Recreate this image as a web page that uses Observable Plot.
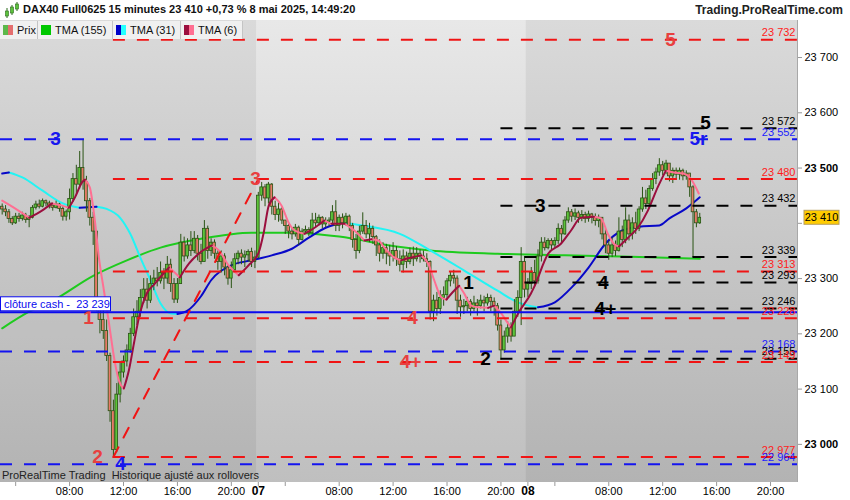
<!DOCTYPE html>
<html>
<head>
<meta charset="utf-8">
<script src="https://cdn.jsdelivr.net/npm/d3@7"></script>
<script src="https://cdn.jsdelivr.net/npm/@observablehq/plot@0.6"></script>
<style>
  body { margin: 0; background: #fff; font-family: "Liberation Sans", Arial, sans-serif; }
  #wrap { position: relative; width: 850px; height: 500px; overflow: hidden; background: #fff; }
  #hdr { position: absolute; left: 0; top: 0; width: 850px; height: 20px; background: #fff; }
  #title { position: absolute; left: 23px; top: 3px; font-size: 11px; font-weight: bold; color: #111; white-space: nowrap; }
  #brand { position: absolute; right: 7px; top: 3px; font-size: 12px; font-weight: bold; color: #222; }
  #bg { position: absolute; left: 0; top: 20px; width: 797px; height: 462px; background: linear-gradient(#e8e8e8, #bfbfbf); }
  #chart { position: absolute; left: 0; top: 20px; }
  #legend { position: absolute; left: 0; top: 21px; height: 18px; display: flex; }
  .lg { box-sizing: border-box; height: 18px; background: #f0f0f0; border-right: 1px solid #c4c4c4; display: flex; align-items: center; font-size: 11px; padding-left: 3px; color: #111; }
  .sw { width: 5px; height: 10px; display: inline-block; }
  .gap { width: 4px; display: inline-block; }
  #foot { position: absolute; left: 2px; top: 469px; font-size: 11px; color: #222; white-space: nowrap; }
</style>
</head>
<body>
<div id="wrap">
  <div id="hdr">
    <svg width="16" height="17" style="position:absolute;left:4px;top:2px">
      <line x1="3" y1="6" x2="3" y2="16" stroke="#2b6a1a"/><rect x="1.5" y="9" width="3" height="5" fill="#5cc33c" stroke="#2b6a1a" stroke-width="0.6"/>
      <line x1="8" y1="3" x2="8" y2="13" stroke="#2b6a1a"/><rect x="6.5" y="5" width="3" height="6" fill="#5cc33c" stroke="#2b6a1a" stroke-width="0.6"/>
      <line x1="13" y1="0" x2="13" y2="9" stroke="#2b6a1a"/><rect x="11.5" y="2" width="3" height="5" fill="#5cc33c" stroke="#2b6a1a" stroke-width="0.6"/>
    </svg>
    <div id="title">DAX40 Full0625 15 minutes 23 410 +0,73 % 8 mai 2025, 14:49:20</div>
    <div id="brand">Trading.ProRealTime.com</div>
  </div>
  <div id="bg"></div>
  <div id="chart"></div>
  <div id="legend">
    <div class="lg" style="width:38px"><span class="sw" style="background:#5cb84a"></span><span class="sw" style="background:#e46e6e"></span><span class="gap"></span>Prix</div>
    <div class="lg" style="width:75px"><span class="sw" style="width:10px;background:#00c800"></span><span class="gap"></span>TMA (155)</div>
    <div class="lg" style="width:68px"><span class="sw" style="background:#0000c8"></span><span class="sw" style="background:#22ffff"></span><span class="gap"></span>TMA (31)</div>
    <div class="lg" style="width:62px"><span class="sw" style="background:#9b0f3e"></span><span class="sw" style="background:#ff6f92"></span><span class="gap"></span>TMA (6)</div>
  </div>
  <div id="foot">ProRealTime Trading&nbsp; Historique ajusté aux rollovers</div>
</div>
<script>
// 15 minute bars, bar 0 = 6 mai 03:00, bar 76 = 7 mai 02:00, bar 156 = 8 mai 02:00
const firstOpen = 23430;
const closes = [
  23425,23420,23408,23400,23412,23408,23414,23406,23410,23428,23434,23430,23440,23436,23432,23428,23434,23426,23412,23420,
  23444,23480,23470,23500,23475,23440,23410,23385,23250,23225,23205,23160,23060,22990,23090,23130,23150,23170,23200,23230,
  23240,23265,23280,23260,23290,23300,23295,23310,23300,23325,23290,23262,23290,23365,23340,23360,23350,23372,23345,23330,
  23390,23350,23365,23345,23330,23340,23320,23300,23315,23335,23345,23338,23342,23348,23330,23338,
  23450,23465,23445,23470,23430,23415,23425,23405,23395,23385,23380,23392,23370,23385,23388,23382,23405,23400,23410,23398,
  23402,23405,23420,23395,23410,23400,23412,23395,23370,23350,23385,23395,23380,23390,23375,23360,23345,23355,23345,23340,
  23350,23335,23325,23340,23330,23345,23335,23345,23340,23335,23330,23240,23260,23245,23265,23270,23295,23305,23300,23260,
  23248,23250,23258,23245,23255,23250,23260,23255,23265,23258,23250,23215,23170,23195,23210,23195,23240,23265,23330,23280,
  23290,23310,23295,23340,23365,23355,23368,23360,23368,23390,23380,23405,23420,23412,23418,23410,23415,23408,23416,23410,
  23404,23410,23380,23360,23345,23360,23350,23385,23370,23405,23380,23400,23390,23425,23445,23435,23462,23480,23492,23505,
  23495,23508,23485,23495,23488,23495,23485,23490,23465,23420,23400,23410
];
const highs = [
  23435,23432,23425,23412,23418,23418,23420,23418,23414,23432,23440,23442,23444,23442,23440,23436,23440,23436,23430,23424,
  23462,23490,23505,23530,23552,23485,23445,23420,23385,23260,23245,23225,23165,23080,23110,23150,23160,23180,23210,23245,
  23260,23280,23300,23300,23305,23315,23320,23330,23318,23340,23335,23300,23300,23380,23375,23372,23385,23385,23378,23362,
  23405,23395,23372,23370,23350,23350,23345,23325,23330,23345,23350,23352,23350,23352,23355,23350,
  23456,23474,23470,23474,23472,23440,23437,23428,23405,23400,23392,23398,23395,23390,23395,23392,23418,23418,23415,23412,
  23410,23410,23432,23441,23415,23417,23418,23415,23400,23380,23395,23419,23405,23400,23395,23378,23370,23365,23362,23360,
  23365,23358,23350,23352,23348,23355,23357,23356,23352,23350,23345,23332,23270,23275,23278,23285,23300,23312,23315,23305,
  23270,23262,23266,23262,23268,23262,23270,23268,23272,23270,23265,23255,23225,23205,23222,23220,23262,23278,23356,23340,
  23300,23320,23333,23352,23374,23374,23372,23372,23374,23399,23396,23412,23428,23425,23426,23422,23423,23420,23422,23418,
  23417,23415,23410,23390,23368,23374,23368,23410,23395,23428,23415,23410,23420,23430,23465,23460,23468,23490,23500,23517,
  23512,23514,23505,23500,23500,23500,23498,23495,23490,23468,23425,23418
];
const lows = [
  23415,23412,23400,23396,23398,23402,23404,23400,23392,23408,23424,23426,23428,23430,23426,23422,23426,23420,23404,23404,
  23406,23438,23450,23462,23460,23420,23395,23360,23240,23200,23190,23150,23040,22975,22985,23075,23120,23140,23165,23195,
  23215,23230,23255,23245,23255,23278,23285,23290,23280,23290,23275,23255,23255,23290,23330,23335,23340,23345,23332,23325,
  23330,23335,23340,23335,23315,23310,23305,23288,23282,23310,23325,23325,23320,23330,23320,23318,
  23336,23440,23430,23435,23415,23405,23402,23398,23380,23372,23370,23375,23360,23368,23380,23376,23380,23392,23395,23390,
  23392,23394,23396,23385,23385,23390,23395,23385,23355,23335,23345,23380,23372,23365,23362,23340,23330,23335,23325,23322,
  23330,23322,23312,23310,23318,23325,23322,23330,23328,23330,23320,23225,23222,23232,23235,23250,23260,23285,23290,23235,
  23230,23235,23240,23232,23240,23232,23245,23240,23250,23240,23232,23205,23152,23165,23183,23185,23195,23230,23215,23265,
  23266,23280,23285,23290,23330,23350,23352,23351,23355,23362,23365,23378,23400,23402,23405,23400,23403,23400,23402,23399,
  23395,23392,23370,23345,23333,23338,23340,23348,23356,23363,23368,23370,23380,23385,23420,23425,23430,23458,23470,23485,
  23486,23488,23475,23472,23478,23478,23477,23478,23447,23338,23392,23398
];

// triangular moving averages (bar, value)
const tma155Bars = [0, 8, 15, 27, 37, 47, 59, 74, 86, 100, 117, 127, 147, 167, 184, 207];
const tma155Vals = [23210, 23240, 23260, 23305, 23333, 23356, 23372, 23383, 23383, 23376, 23358, 23351, 23345, 23342, 23340, 23336];

const tma31Bars = [0, 2, 6, 12, 18, 23, 28, 31, 35, 38, 41, 44, 47, 50, 52, 55, 59, 62, 68, 74, 80, 86, 91, 96, 101, 107,
  118, 127, 137, 147, 153, 157, 159, 164, 169, 174, 179, 184, 189, 195, 198, 203, 207];
const tma31Vals = [23490, 23492, 23483, 23459, 23436, 23428, 23430, 23426, 23410, 23381, 23338, 23297, 23255, 23237, 23236, 23242,
  23268, 23297, 23324, 23333, 23342, 23354, 23374, 23392, 23401, 23396, 23381, 23351, 23315, 23278, 23257, 23250, 23248, 23257,
  23284, 23320, 23363, 23387, 23394, 23396, 23409, 23427, 23447];

const tma6Bars = [0, 3.8, 8, 11.8, 14.8, 17.8, 19.8, 21.6, 23.7, 24.6, 26, 27.5, 28.7, 30.2, 31.7, 33.2, 34.6, 36.1, 37.6, 39.1,
  40.6, 42.9, 45.3, 47.4, 49.5, 51.2, 52.7, 55.4, 58.3, 62.2, 64.3, 67.2, 70.2, 73.1, 76.1, 77.6, 79.1, 80.8, 82.9, 85,
  86.8, 89.7, 92.7, 95.6, 97.7, 101.6, 104.5, 107.5, 109.6, 111.6, 113.4, 116.4, 118.4, 121.4, 124.4, 126.4, 128.2, 130.3, 131.8, 134.1,
  135.6, 137.1, 139.2, 141.2, 144.2, 146, 148.1, 150.1, 151, 153.1, 156.9, 157.8, 162, 165.8, 168.8, 171.7, 175.6, 177.7, 179.7, 181.5,
  183, 185.7, 188.6, 191.6, 194.5, 196.9, 199.3, 202.2, 204.3, 206.7];
const tma6Vals = [23441, 23427, 23410, 23423, 23436, 23432, 23428, 23447, 23474, 23479, 23465, 23405, 23338, 23278, 23219, 23157, 23116, 23101, 23134, 23183,
  23230, 23273, 23291, 23306, 23320, 23311, 23302, 23327, 23345, 23360, 23351, 23324, 23306, 23324, 23347, 23383, 23432, 23447, 23432, 23401,
  23387, 23381, 23392, 23405, 23399, 23399, 23387, 23369, 23371, 23369, 23356, 23338, 23333, 23338, 23342, 23327, 23297, 23266, 23262, 23278,
  23287, 23273, 23251, 23248, 23247, 23251, 23237, 23219, 23212, 23237, 23273, 23284, 23345, 23363, 23387, 23410, 23412, 23409, 23381, 23363,
  23358, 23374, 23392, 23423, 23465, 23495, 23492, 23490, 23481, 23454];

// horizontal levels
const levelValues = [23732, 23572, 23552, 23480, 23432, 23339, 23313, 23293, 23246, 23228, 23168, 23155, 23149, 22977, 22964];
const levelKinds  = ["red", "black", "blue", "red", "black", "black", "red", "black", "black", "red", "blue", "black", "red", "red", "blue"];
const kindStartBar = {red: 33, black: 148, blue: -0.5};
const cashClose = 23239;

const trendBars = [33, 76];
const trendPrices = [22977, 23480];

const labelTexts  = ["1", "2", "3", "4", "4+", "5", "3", "4", "5r", "1", "2", "3", "4", "4+", "5"];
const labelKinds  = ["red", "red", "red", "red", "red", "red", "blue", "blue", "blue", "black", "black", "black", "black", "black", "black"];
const labelBars   = [25.6, 28.3, 75.2, 121.8, 121.2, 198.3, 15.8, 35.1, 206.6, 138.4, 143.4, 159.7, 178.4, 179, 208.7];
const labelPrices = [23228, 22977, 23480, 23228, 23149, 23732, 23552, 22964, 23552, 23293, 23155, 23432, 23293, 23246, 23582];

const dayStartBars = [-0.5, 75.5, 155.5, 236];
const hourTickBars = [4, 20, 36, 52, 68, 84, 100, 116, 132, 148, 164, 180, 196, 212, 228];
const hourTickLabels = ["", "08:00", "12:00", "16:00", "20:00", "", "08:00", "12:00", "16:00", "20:00", "", "08:00", "12:00", "16:00", "20:00"];
const dayTickBars = [76, 156];
const dayTickLabels = ["07", "08"];
const priceTicks = [23100, 23200, 23300, 23600, 23700];
const hiddenPriceTicks = [23400];   // covered by the last price tag
const boldPriceTicks = [23000, 23500];

const lineColor = {red: "#f01414", black: "#000000", blue: "#1414f0"};
const textColor = {red: "#ff1c1c", black: "#000000", blue: "#1c1cff"};
const bigColor = {red: "#e8403f", black: "#000000", blue: "#1818ee"};

const fmt = v => d3.format(",")(v).replace(/,/g, " ");

const candles = closes.map((c, i) => ({i, o: i ? closes[i - 1] : firstOpen, h: highs[i], l: lows[i], c}));
const levels = levelValues.map((v, i) => ({v, kind: levelKinds[i], start: kindStartBar[levelKinds[i]]}));
const labels = labelTexts.map((t, i) => ({t, kind: labelKinds[i], b: labelBars[i], p: labelPrices[i]}));
const trend = trendBars.map((b, i) => ({b, p: trendPrices[i]}));
const tma155 = tma155Bars.map((b, i) => ({b, v: tma155Vals[i]}));
const shade = [{x1: dayStartBars[0], x2: dayStartBars[1]}, {x1: dayStartBars[2], x2: dayStartBars[3]}];
const hourLabel = new Map(hourTickBars.map((b, i) => [b, hourTickLabels[i]]));
const dayLabel = new Map(dayTickBars.map((b, i) => [b, dayTickLabels[i]]));

// split a curve into rising / falling runs so each run gets its colour
function trendRuns(bars, vals) {
  const out = [];
  let run = -1, prevUp = null;
  for (let i = 1; i < bars.length; i++) {
    const up = vals[i] >= vals[i - 1];
    if (up !== prevUp) {
      run++;
      out.push({x: bars[i - 1], y: vals[i - 1], run, up});
    }
    out.push({x: bars[i], y: vals[i], run, up});
    prevUp = up;
  }
  return out;
}
const t31 = trendRuns(tma31Bars, tma31Vals);
const t6 = trendRuns(tma6Bars, tma6Vals);

const wick = "#2a5314";

const chart = Plot.plot({
  width: 850,
  height: 480,
  marginTop: 0,
  marginRight: 53,
  marginBottom: 18,
  marginLeft: 0,
  style: {background: "transparent", fontFamily: "Liberation Sans, Arial, sans-serif", fontSize: "11px", color: "#000"},
  x: {type: "linear", domain: [-0.5, 236], axis: null},
  y: {domain: [22931, 23767], axis: null},
  color: {type: "identity"},
  marks: [
    Plot.rect(shade, {x1: "x1", x2: "x2", fill: "#000", fillOpacity: 0.06}),
    Plot.line(tma155, {x: "b", y: "v", stroke: "#1ecb1e", strokeWidth: 2, curve: "monotone-x"}),
    Plot.line(t31.filter(d => !d.up), {x: "x", y: "y", z: "run", stroke: "#22f4f4", strokeWidth: 2, curve: "monotone-x"}),
    Plot.line(t31.filter(d => d.up), {x: "x", y: "y", z: "run", stroke: "#0808c8", strokeWidth: 2, curve: "monotone-x"}),
    Plot.ruleX(candles, {x: "i", y1: "l", y2: "h", stroke: wick, strokeWidth: 1}),
    Plot.rect(candles.filter(d => d.c >= d.o), {x1: d => d.i - 0.4, x2: d => d.i + 0.4, y1: "o", y2: "c", fill: "#5cc43a", stroke: wick, strokeWidth: 0.8}),
    Plot.rect(candles.filter(d => d.c < d.o), {x1: d => d.i - 0.4, x2: d => d.i + 0.4, y1: "o", y2: "c", fill: "#e87a68", stroke: wick, strokeWidth: 0.8}),
    Plot.line(t6.filter(d => !d.up), {x: "x", y: "y", z: "run", stroke: "#ff6f92", strokeWidth: 2, curve: "monotone-x"}),
    Plot.line(t6.filter(d => d.up), {x: "x", y: "y", z: "run", stroke: "#9b0f3e", strokeWidth: 2, curve: "monotone-x"}),
    Plot.ruleY(levels, {y: "v", x1: "start", x2: 236, stroke: d => lineColor[d.kind], strokeWidth: 2, strokeDasharray: "12,12"}),
    Plot.ruleY([cashClose], {stroke: "#0a0aee", strokeWidth: 2}),
    Plot.line(trend, {x: "b", y: "p", stroke: "#f01414", strokeWidth: 2, strokeDasharray: "11,11"}),
    Plot.text(levels, {x: 236, y: "v", text: d => fmt(d.v), textAnchor: "end", dx: -2, dy: -7, fill: d => textColor[d.kind], fontSize: 11}),
    Plot.text(labels, {x: "b", y: "p", text: "t", fill: d => bigColor[d.kind], fontSize: 19, fontWeight: "bold"}),
    Plot.ruleX([236], {stroke: "#a8a8a8"}),
    Plot.axisX(hourTickBars, {anchor: "bottom", tickFormat: d => hourLabel.get(d), tickSize: 4, tickPadding: 1, stroke: "#999", fill: "#000", fontSize: 11, label: null}),
    Plot.axisX(dayTickBars, {anchor: "bottom", tickFormat: d => dayLabel.get(d), tickSize: 4, tickPadding: 0, stroke: "#999", fill: "#000", fontSize: 12, fontWeight: "bold", label: null}),
    Plot.axisY(priceTicks, {anchor: "right", tickFormat: fmt, tickSize: 4, tickPadding: 3, stroke: "#999", fill: "#000", fontSize: 11, label: null}),
    Plot.axisY(hiddenPriceTicks, {anchor: "right", tickFormat: () => "", tickSize: 4, stroke: "#999", label: null}),
    Plot.axisY(boldPriceTicks, {anchor: "right", tickFormat: fmt, tickSize: 4, tickPadding: 3, stroke: "#999", fill: "#000", fontSize: 11, fontWeight: "bold", label: null})
  ]
});

document.getElementById("chart").appendChild(chart);

// price tag and cash close box, placed with the plot's own scales
const xs = chart.scale("x"), ys = chart.scale("y");
const svg = d3.select(chart);
const lastPrice = closes[closes.length - 1];
const yLast = ys.apply(lastPrice), xEnd = xs.apply(236);
const tag = svg.append("g").attr("font-size", 11);
tag.append("rect").attr("x", xEnd + 7).attr("y", yLast - 7).attr("width", 35).attr("height", 14)
  .attr("fill", "#ffcc00").attr("stroke", "#b8a060");
tag.append("text").attr("x", xEnd + 24.5).attr("y", yLast).attr("dy", "0.35em").attr("text-anchor", "middle")
  .attr("fill", "#000").text(fmt(lastPrice));

const yCash = ys.apply(cashClose);
tag.append("rect").attr("x", 0.5).attr("y", yCash - 15).attr("width", 110).attr("height", 14)
  .attr("fill", "#fff").attr("stroke", "#0a0aee");
tag.append("text").attr("x", 4).attr("y", yCash - 8).attr("dy", "0.35em").attr("text-anchor", "start")
  .attr("fill", "#0a0aee").text("clôture cash -  " + fmt(cashClose));
</script>
</body>
</html>
